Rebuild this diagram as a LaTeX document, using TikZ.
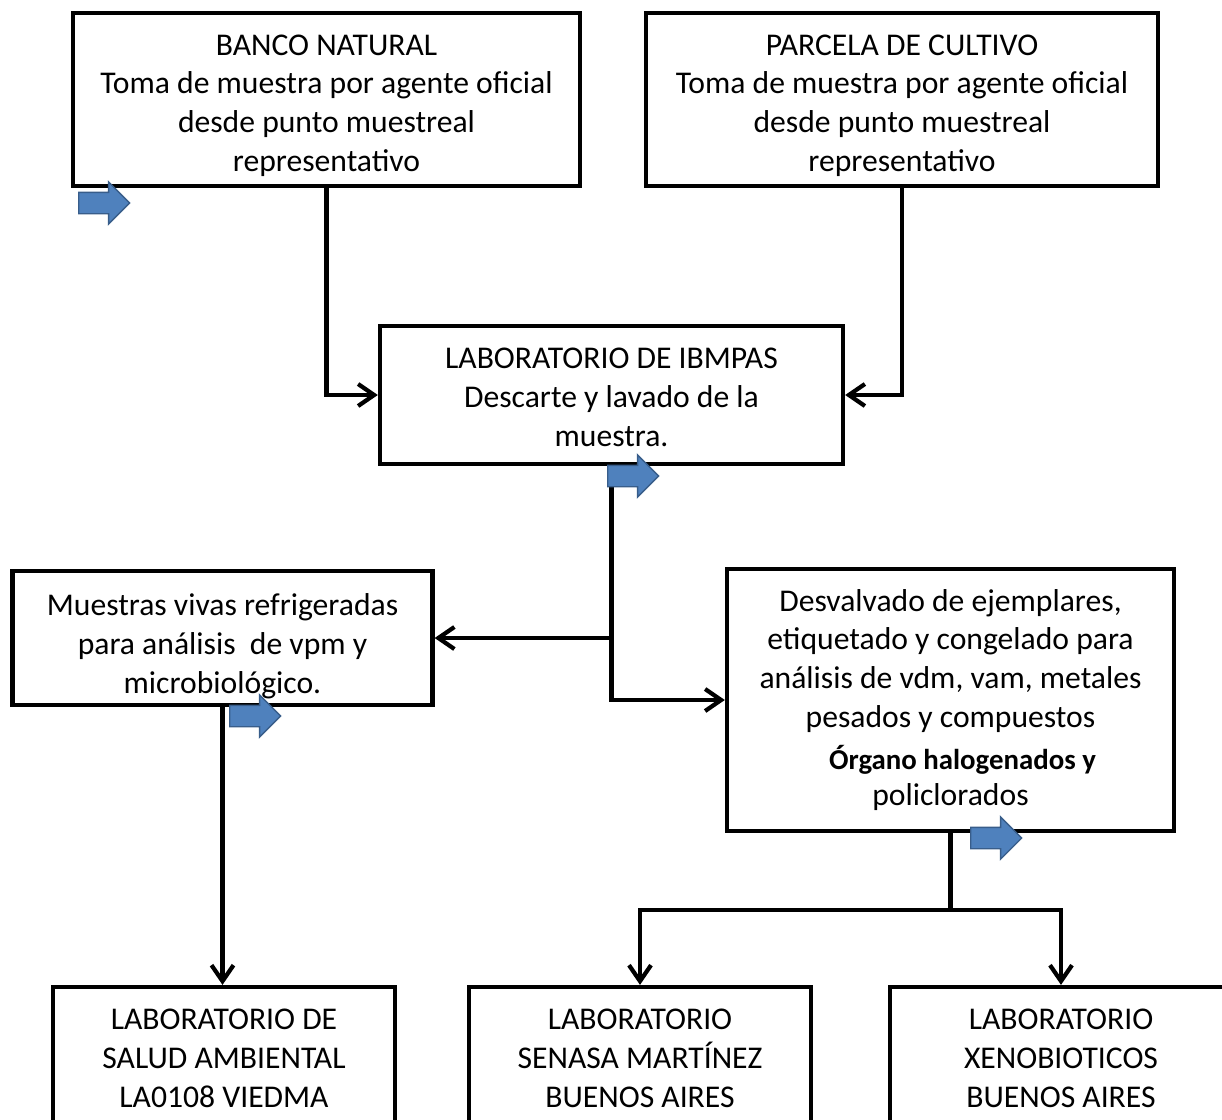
\documentclass[tikz,border=0pt]{standalone}
\usepackage{xcolor}
\usepackage{fontspec}
\setmainfont{Carlito}
\usepackage{tikz}
\usetikzlibrary{arrows.meta,shapes.arrows}

\definecolor{arrowfill}{HTML}{4F81BD}
\definecolor{arrowline}{HTML}{385D8A}

\begin{document}
\begin{tikzpicture}[x=0.025cm,y=-0.025cm]
	\tikzstyle{stage}=[draw, line width=3pt, align=center, inner sep=0pt, font=\fontsize{22.5}{27.5}\selectfont]
	\tikzstyle{lab}=[stage, minimum width=8.55cm, minimum height=3.5cm]
	\tikzstyle{bluearrow}=[single arrow, fill=arrowfill, draw=arrowline, line width=1pt, single arrow head extend=0.26cm, minimum height=1.275cm, minimum width=1.025cm, inner xsep=0pt, inner ysep=0.25cm, anchor=tail]
	\tikzset{edge/.style = {line width=3pt, -{Straight Barb[length=0.4cm, width=0.55cm]}}}
	\tikzset{drop/.style = {execute at begin node={\rule{0pt}{#1}}}}
	
	\useasboundingbox (0,0) rectangle (1222,1119);
	
	\node[stage, drop=105.6pt, minimum width=12.675cm, minimum height=4.325cm](banco) at (326.5,99.5) {BANCO NATURAL\\Toma de muestra por agente oficial\\desde punto muestreal\\representativo};
	\node[stage, drop=105.6pt, minimum width=12.8cm, minimum height=4.325cm](parcela) at (902,99.5) {PARCELA DE CULTIVO\\Toma de muestra por agente oficial\\desde punto muestreal\\representativo};
	\node[stage, drop=73.1pt, minimum width=11.575cm, minimum height=3.45cm](ibmpas) at (611.5,395) {LABORATORIO DE IBMPAS\\Descarte y lavado de la\\muestra.};
	\draw[edge](banco.south) |- (ibmpas.west);
	\draw[edge](parcela.south) |- (ibmpas.east);
	
	\node[stage, drop=82.3pt, minimum width=10.5cm, minimum height=3.35cm](muestras) at (222.5,638) {Muestras vivas refrigeradas\\para análisis \ de vpm y\\microbiológico.};
	\node[stage, minimum width=11.175cm, minimum height=6.55cm](desval) at (950.5,700) {Desvalvado de ejemplares,\\etiquetado y congelado para\\análisis de vdm, vam, metales\\pesados y compuestos\\[3pt]{\hspace*{0.6cm}\fontsize{20.5}{24}\selectfont\bfseries Órgano halogenados y}\\[-2pt]policlorados};
	\draw[edge](ibmpas.south) |- (muestras.east);
	\draw[edge](ibmpas.south) |- (desval.west);
	
	\node[lab, drop=71.5pt](lab1) at (224,1057) {LABORATORIO DE\\SALUD AMBIENTAL\\LA0108 VIEDMA};
	\node[lab, drop=71.5pt](lab2) at (640,1057) {LABORATORIO\\SENASA MARTÍNEZ\\BUENOS AIRES};
	\node[lab, drop=71.5pt](lab3) at (1061,1057) {LABORATORIO\\XENOBIOTICOS\\BUENOS AIRES};
	\draw[edge](muestras.south) -- (muestras.south |- lab1.north);
	
	\coordinate(split) at (desval.south |- 0,910);
	\draw[line width=3pt](desval.south) -- (split);
	\draw[edge](split) -| (lab2.north);
	\draw[edge](split) -| (lab3.north);
	
	% blue marks
	\node[bluearrow](mark1) at (78,203) {};
	\node[bluearrow](mark2) at (607,476) {};
	\node[bluearrow](mark3) at (229,716) {};
	\node[bluearrow](mark4) at (970,838) {};
	
\end{tikzpicture}
\end{document}
